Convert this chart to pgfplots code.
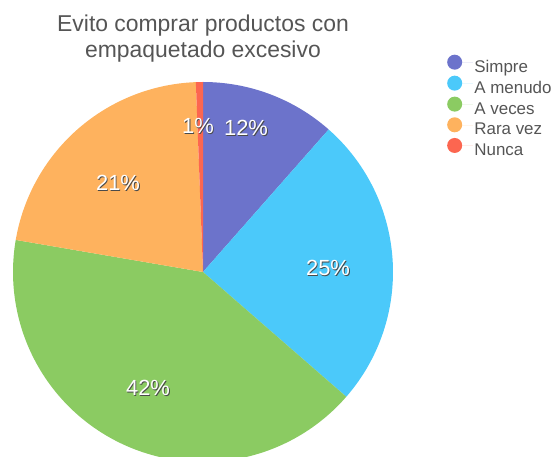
\documentclass[border=0pt]{standalone}
\usepackage{pgfplots}
\pgfplotsset{compat=1.18}
\usepackage{fontspec}
\setmainfont{Liberation Sans}
\definecolor{cSim}{HTML}{6C73CB}
\definecolor{cMen}{HTML}{4BC9FA}
\definecolor{cVec}{HTML}{8BCB62}
\definecolor{cRar}{HTML}{FEB25E}
\definecolor{cNun}{HTML}{FC6650}
\definecolor{tgray}{HTML}{555555}
\definecolor{sgray}{HTML}{4A4A4A}
% shares in percent, clockwise from the top
\def\vSim{11.5}\def\vMen{24.9}\def\vVec{41.3}\def\vRar{21.7}\def\vNun{0.6}
\newcommand\pielabel[3]{%
  \node[text=sgray,font=\fontsize{22}{22}\selectfont] at (axis cs:#1+0.9,#2-1.1) {#3};
  \node[text=white,font=\fontsize{22}{22}\selectfont] at (axis cs:#1,#2) {#3};}
\begin{document}
\begin{tikzpicture}
\pgfmathsetmacro\aA{90}
\pgfmathsetmacro\aB{90-3.6*\vSim}
\pgfmathsetmacro\aC{\aB-3.6*\vMen}
\pgfmathsetmacro\aD{\aC-3.6*\vVec}
\pgfmathsetmacro\aE{\aD-3.6*\vRar}
\pgfmathsetmacro\aF{\aE-3.6*\vNun}
\begin{axis}[
  at={(0,0)}, anchor=south west,
  width=560bp, height=457bp, scale only axis,
  xmin=0, xmax=560, ymin=0, ymax=457,
  hide axis, clip=false,
  legend style={at={(axis cs:444,404.5)}, anchor=north west, draw=none, fill=none,
    font=\fontsize{17}{17}\selectfont, text=tgray, row sep=0.4bp,
    nodes={inner sep=1.2bp}},
  legend cell align=left,
  legend image code/.code={\path[#1,draw=none] (0,0) circle (7.5bp);
    \path (-7.5bp,0) rectangle (18.5bp,0);},
]
\addplot[fill=cSim, draw=none, domain=\aB:\aA, samples=80, variable=\t]
  ({203+190*cos(\t)},{185+190*sin(\t)}) -- (axis cs:203,185) -- cycle;
\addplot[fill=cMen, draw=none, domain=\aC:\aB, samples=80, variable=\t]
  ({203+190*cos(\t)},{185+190*sin(\t)}) -- (axis cs:203,185) -- cycle;
\addplot[fill=cVec, draw=none, domain=\aD:\aC, samples=120, variable=\t]
  ({203+190*cos(\t)},{185+190*sin(\t)}) -- (axis cs:203,185) -- cycle;
\addplot[fill=cRar, draw=none, domain=\aE:\aD, samples=80, variable=\t]
  ({203+190*cos(\t)},{185+190*sin(\t)}) -- (axis cs:203,185) -- cycle;
\addplot[fill=cNun, draw=none, domain=\aF:\aE, samples=10, variable=\t]
  ({203+190*cos(\t)},{185+190*sin(\t)}) -- (axis cs:203,185) -- cycle;
\legend{Simpre, A menudo, A veces, Rara vez, Nunca}
\node[text=tgray, align=center, font=\fontsize{23}{26}\selectfont] at (axis cs:203,418.5)
  {Evito comprar productos con\\empaquetado excesivo};
\pielabel{246}{329}{12\%}
\pielabel{198}{331}{1\%}
\pielabel{118}{274}{21\%}
\pielabel{328}{189}{25\%}
\pielabel{148}{69}{42\%}
\end{axis}
\pgfresetboundingbox
\useasboundingbox (0,0) rectangle (560bp,457bp);
\end{tikzpicture}
\end{document}
